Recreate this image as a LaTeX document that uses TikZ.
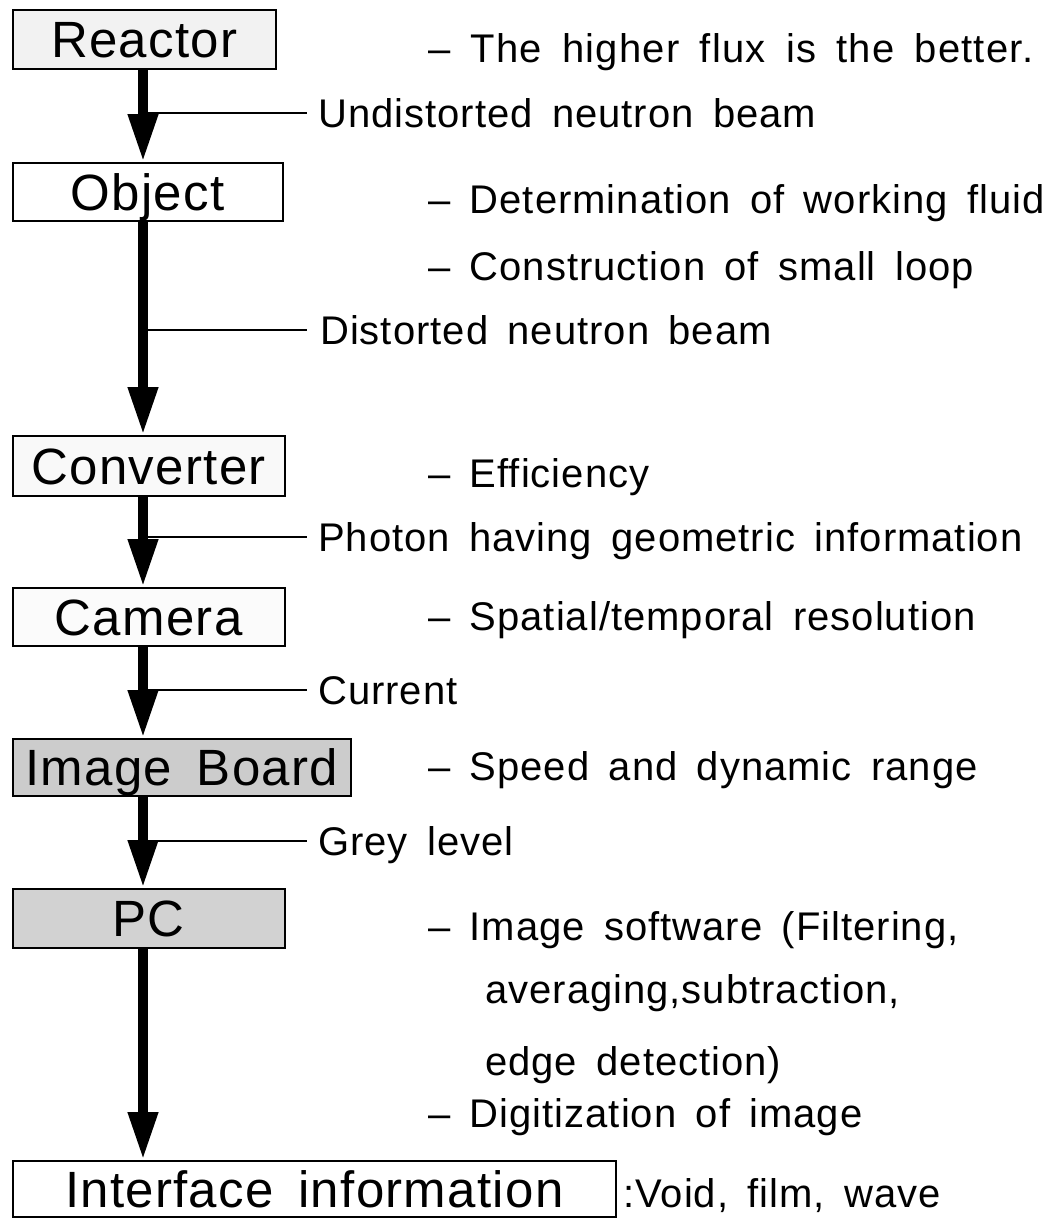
\documentclass[tikz,border=0pt]{standalone}
\usepackage{fontspec}
\setmainfont{Liberation Sans}
\newfontfamily\notefont{Liberation Sans}[LetterSpace=2.5,WordSpace=1.6]
\newfontfamily\notefontb{Liberation Sans}[LetterSpace=3,WordSpace=1.65]
\newfontfamily\boxfont{Liberation Sans}[LetterSpace=2.5,WordSpace=1.6]
\usetikzlibrary{arrows.meta}
\begin{document}
\begin{tikzpicture}[x=1pt,y=-1pt,
  box/.style={draw=black, line width=1.5pt, anchor=north west, inner sep=0pt,
    font=\boxfont\fontsize{51}{51}\selectfont, text height=36.5pt, text depth=0pt},
  flow/.style={line width=10pt, -{Triangle[length=48pt,width=28pt]}},
  lead/.style={line width=1.5pt},
  note/.style={anchor=base west, inner sep=0pt, font=\notefont\fontsize{40}{40}\selectfont},
]
\useasboundingbox (0,0) rectangle (1048,1219);
% boxes
\node[box, fill=gray!10, minimum width=263pt, minimum height=59pt] (reactor) at (12,9) {Reactor};
\node[box, fill=white, minimum width=270pt, minimum height=58pt] (object) at (12,162) {Object};
\node[box, fill=gray!5, minimum width=272pt, minimum height=60pt] (converter) at (12,435) {Converter};
\node[box, fill=gray!3, minimum width=272pt, minimum height=58pt] (camera) at (12,587) {Camera};
\node[box, fill=gray!40, minimum width=338pt, minimum height=57pt] (board) at (12,738) {Image Board};
\node[box, fill=gray!35, minimum width=272pt, minimum height=59pt] (pc) at (12,888) {PC};
\node[box, fill=white, minimum width=603pt, minimum height=56pt] (iface) at (12,1160) {Interface information};
% axis of arrows
\coordinate (ax) at (143,0);
% leader end points
\coordinate (e1) at (307,113);
\coordinate (e2) at (307,330);
\coordinate (e3) at (307,537);
\coordinate (e4) at (307,690);
\coordinate (e5) at (307,841);
\draw[lead] (ax |- e1) -- (e1);
\draw[lead] (ax |- e2) -- (e2);
\draw[lead] (ax |- e3) -- (e3);
\draw[lead] (ax |- e4) -- (e4);
\draw[lead] (ax |- e5) -- (e5);
% arrows
\draw[flow] (reactor.south -| ax) -- (object.north -| ax);
\draw[flow] (object.south -| ax) -- (converter.north -| ax);
\draw[flow] (converter.south -| ax) -- (camera.north -| ax);
\draw[flow] (camera.south -| ax) -- (board.north -| ax);
\draw[flow] (board.south -| ax) -- (pc.north -| ax);
\draw[flow] (pc.south -| ax) -- (iface.north -| ax);
% notes
\node[note, font=\notefontb\fontsize{40}{40}\selectfont] (t1) at (428,62) {– The higher flux is the better.};
\node[note] (l1) at (318,127) {Undistorted neutron beam};
\node[note] (t2) at (428,213) {– Determination of working fluid};
\node[note] (t3) at (428,280) {– Construction of small loop};
\node[note] (l2) at (320,344) {Distorted neutron beam};
\node[note] (t4) at (428,487) {– Efficiency};
\node[note] (l3) at (318,551) {Photon having geometric information};
\node[note] (t5) at (428,630) {– Spatial/temporal resolution};
\node[note] (l4) at (318,704) {Current};
\node[note] (t6) at (428,780) {– Speed and dynamic range};
\node[note] (l5) at (318,855) {Grey level};
\node[note] (t7) at (428,940) {– Image software (Filtering,};
\node[note] (t8) at (485,1003) {averaging,subtraction,};
\node[note] (t9) at (485,1075) {edge detection)};
\node[note] (t10) at (428,1127) {– Digitization of image};
\node[note] (v) at (623,1207) {:Void, film, wave};
\end{tikzpicture}
\end{document}
